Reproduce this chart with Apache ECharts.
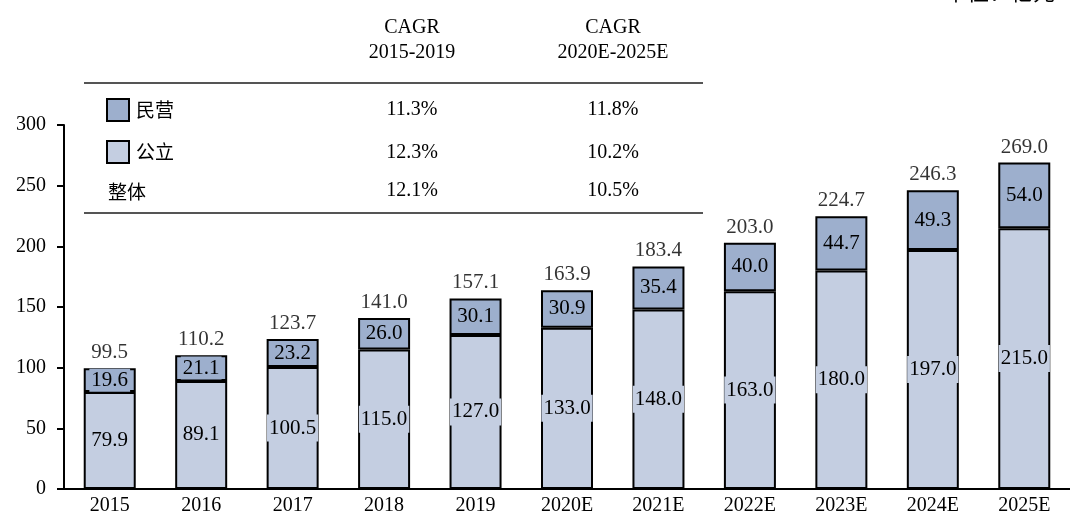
<!DOCTYPE html>
<html>
<head>
<meta charset="utf-8">
<script src="https://cdn.jsdelivr.net/npm/echarts@6/dist/echarts.min.js"></script>
<style>
  html, body { margin: 0; padding: 0; background: #fff; }
  #main { width: 1070px; height: 516px; }
</style>
</head>
<body>
<div id="main"></div>
<script>
// 数据
var years = ['2015', '2016', '2017', '2018', '2019', '2020E', '2021E', '2022E', '2023E', '2024E', '2025E'];
var publicVals = [79.9, 89.1, 100.5, 115.0, 127.0, 133.0, 148.0, 163.0, 180.0, 197.0, 215.0];
var privateVals = [19.6, 21.1, 23.2, 26.0, 30.1, 30.9, 35.4, 40.0, 44.7, 49.3, 54.0];
var totals = [99.5, 110.2, 123.7, 141.0, 157.1, 163.9, 183.4, 203.0, 224.7, 246.3, 269.0];
var cagrHead = ['CAGR\n2015-2019', 'CAGR\n2020E-2025E'];
var cagrPrivate = ['11.3%', '11.8%'];
var cagrPublic = ['12.3%', '10.2%'];
var cagrAll = ['12.1%', '10.5%'];

var serif = '"Liberation Serif", "Times New Roman", serif';
var cjk = '"Noto Sans CJK SC", sans-serif';
var cPrivate = '#9DAFCD';
var cPublic = '#C4CEE1';

var chart = echarts.init(document.getElementById('main'));

// 表格文字
var graphics = [];
var colX = [412, 613];
function txt(x, y, s, align, font) {
    graphics.push({
        type: 'text', x: x, y: y,
        style: {
            text: s, fill: '#000', font: font || ('20px ' + serif),
            textAlign: align || 'center', textVerticalAlign: 'middle', lineHeight: 25
        }
    });
}
for (var i = 0; i < 2; i++) {
    txt(colX[i], 40, cagrHead[i]);
    txt(colX[i], 110, cagrPrivate[i]);
    txt(colX[i], 153, cagrPublic[i]);
    txt(colX[i], 191, cagrAll[i]);
}
txt(108, 192, '整体', 'left', '19px ' + cjk);
txt(945, -8, '单位：亿元', 'left', '22px ' + cjk);
[83, 213].forEach(function(y) {
    graphics.push({
        type: 'line',
        shape: { x1: 84, y1: y, x2: 703, y2: y },
        style: { stroke: '#555', lineWidth: 2 }
    });
});

var option = {
    animation: false,
    backgroundColor: '#fff',
    textStyle: { fontFamily: serif },
    grid: { left: 64, right: -6, top: 125, bottom: 27 },
    legend: {
        data: ['民营', '公立'],
        orient: 'vertical',
        left: 106, top: 98, padding: 0,
        icon: 'rect',
        itemWidth: 22, itemHeight: 22, itemGap: 18,
        textStyle: { fontFamily: cjk, fontSize: 19, color: '#000', padding: [0, 0, 0, 2] }
    },
    xAxis: {
        type: 'category',
        data: years,
        axisLine: { lineStyle: { color: '#000', width: 2 } },
        axisTick: { show: false },
        axisLabel: { color: '#000', fontSize: 20, fontFamily: serif, margin: 7 }
    },
    yAxis: {
        type: 'value',
        min: 0, max: 300, interval: 50,
        axisLine: { show: true, lineStyle: { color: '#000', width: 2 } },
        axisTick: { show: true, length: 7, lineStyle: { color: '#000', width: 2 } },
        splitLine: { show: false },
        axisLabel: { color: '#000', fontSize: 20, fontFamily: serif, margin: 18 }
    },
    series: [
        {
            name: '公立', type: 'bar', stack: 'a',
            barWidth: 52,
            data: publicVals,
            itemStyle: { color: cPublic, borderColor: '#000', borderWidth: 2 },
            label: {
                show: true, position: 'inside', color: '#000',
                fontSize: 21, fontFamily: serif,
                backgroundColor: cPublic, padding: [3, 2],
                formatter: function(p) { return p.value.toFixed(1); }
            }
        },
        {
            name: '民营', type: 'bar', stack: 'a',
            data: privateVals,
            itemStyle: { color: cPrivate, borderColor: '#000', borderWidth: 2 },
            label: {
                show: true, position: 'inside', color: '#000',
                fontSize: 21, fontFamily: serif,
                backgroundColor: cPrivate, padding: [1, 2],
                formatter: function(p) { return p.value.toFixed(1); }
            }
        },
        {
            name: '整体', type: 'scatter',
            data: totals,
            symbolSize: 0,
            silent: true,
            label: {
                show: true, position: 'top', distance: 5, color: '#000',
                fontSize: 21, fontFamily: serif,
                formatter: function(p) { return p.value.toFixed(1); }
            }
        }
    ],
    graphic: graphics
};
chart.setOption(option);
</script>
</body>
</html>
